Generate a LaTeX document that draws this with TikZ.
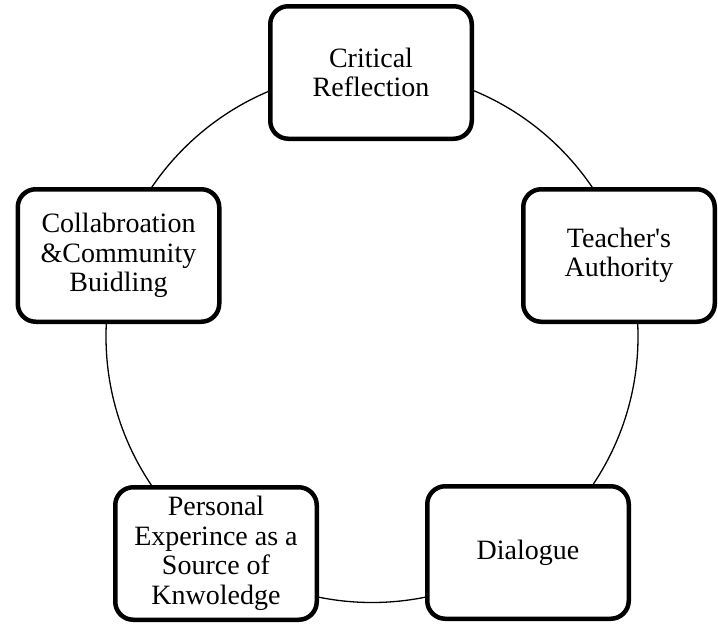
\documentclass[tikz,border=0pt]{standalone}
\usepackage{fontspec}
\setmainfont{Liberation Serif}
\begin{document}
\begin{tikzpicture}[x=1pt,y=-1pt]
\tikzset{
  box/.style={draw, line width=4.5pt, rounded corners=18pt, fill=white,
    align=center, font=\fontsize{28}{29.5}\selectfont,
    minimum width=201.5pt, minimum height=132.5pt, inner sep=0pt},
  ring/.style={draw, line width=1.3pt}
}
\useasboundingbox (0,0) rectangle (718,624);
\draw[ring] (372,336.5) circle[radius=266pt];
\node[box] (top) at (371,72.5) {Critical\\Reflection};
\node[box, minimum width=191.5pt] (right) at (619,255.5) {Teacher\textquotesingle s\\Authority};
\node[box] (left) at (118.5,255.5) {Collabroation\\\&Community\\Buidling};
\node[box] (bl) at (216,553.5) {Personal\\Experince as a\\Source of\\Knwoledge};
\node[box] (br) at (528,552.5) {Dialogue};
\end{tikzpicture}
\end{document}
